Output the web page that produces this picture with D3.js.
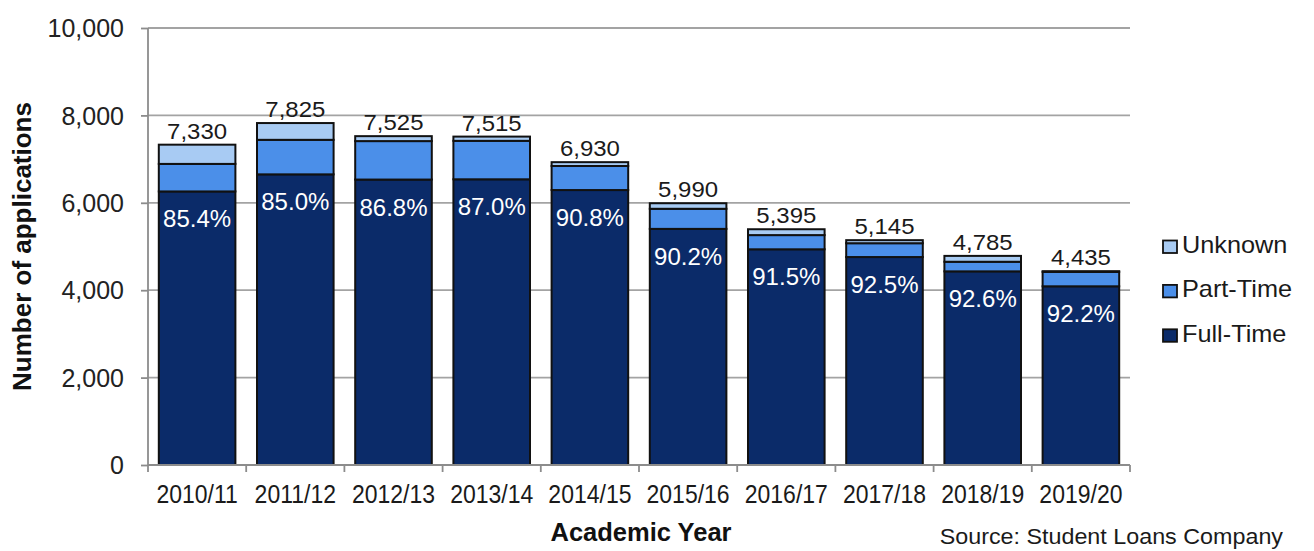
<!DOCTYPE html>
<html>
<head>
<meta charset="utf-8">
<script src="https://cdn.jsdelivr.net/npm/d3@7"></script>
<style>
  body { margin: 0; background: #fff; }
  svg { font-family: Arial, "Liberation Sans", sans-serif; }
</style>
</head>
<body>
<svg id="chart"></svg>
<script>
// Academic years (categories)
const years = ['2010/11', '2011/12', '2012/13', '2013/14', '2014/15',
               '2015/16', '2016/17', '2017/18', '2018/19', '2019/20'];

// Series values (number of applications)
const fullTime = [6260, 6651, 6532, 6538, 6292, 5403, 4936, 4759, 4431, 4089];
const partTime = [630, 790, 880, 880, 550, 460, 325, 316, 220, 330];
const unknown  = [440, 384, 113, 97, 88, 127, 134, 70, 134, 16];

// Y-axis ticks
const yTicks = [0, 2000, 4000, 6000, 8000, 10000];

const seriesKeys = ['Full-Time', 'Part-Time', 'Unknown'];
const colors = {'Full-Time': '#0b2b69', 'Part-Time': '#4b8fe9', 'Unknown': '#a8cbf3'};

const width = 1314, height = 551;
const margin = {top: 28, right: 184, bottom: 86, left: 148};
const innerW = width - margin.left - margin.right;
const innerH = height - margin.top - margin.bottom;

const table = years.map((y, i) => ({
  year: y,
  'Full-Time': fullTime[i],
  'Part-Time': partTime[i],
  'Unknown': unknown[i]
}));

// place a text at (x,y) and stretch it horizontally a bit, like the original
const placeText = (sel, x, y, sx) => sel
    .attr('transform', (d, i) => {
      const px = typeof x === 'function' ? x(d, i) : x;
      const py = typeof y === 'function' ? y(d, i) : y;
      return `translate(${px},${py}) scale(${sx},1)`;
    });

const svg = d3.select('#chart')
    .attr('width', width)
    .attr('height', height);

const chart = svg.append('g')
    .attr('transform', `translate(${margin.left},${margin.top})`);

const xScale = d3.scaleBand()
    .domain(years)
    .range([0, innerW])
    .paddingInner(0.22)
    .paddingOuter(0.11);

const yScale = d3.scaleLinear()
    .domain([0, 10000])
    .range([innerH, 0]);

// Gridlines
chart.append('g')
  .selectAll('line')
  .data(yTicks.filter(d => d > 0))
  .join('line')
    .attr('x1', 0)
    .attr('x2', innerW)
    .attr('y1', d => yScale(d))
    .attr('y2', d => yScale(d))
    .attr('stroke', '#a3a3a3')
    .attr('stroke-width', 1.8);

// Stacked bars
const stacked = d3.stack().keys(seriesKeys)(table);

chart.append('g')
  .selectAll('g')
  .data(stacked)
  .join('g')
    .attr('fill', d => colors[d.key])
  .selectAll('rect')
  .data(d => d)
  .join('rect')
    .attr('x', d => xScale(d.data.year))
    .attr('width', xScale.bandwidth())
    .attr('y', d => yScale(d[1]))
    .attr('height', d => yScale(d[0]) - yScale(d[1]))
    .attr('stroke', '#111')
    .attr('stroke-width', 2);

// Total labels
const totals = table.map(d => d['Full-Time'] + d['Part-Time'] + d['Unknown']);
chart.append('g')
  .selectAll('text')
  .data(table)
  .join('text')
    .call(placeText,
          d => xScale(d.year) + xScale.bandwidth() / 2,
          (d, i) => yScale(totals[i]) - 6, 1.09)
    .attr('text-anchor', 'middle')
    .attr('font-size', 22)
    .attr('fill', '#1a1a1a')
    .text((d, i) => d3.format(',')(totals[i]));

// Full-time percentage labels
chart.append('g')
  .selectAll('text')
  .data(table)
  .join('text')
    .call(placeText,
          d => xScale(d.year) + xScale.bandwidth() / 2,
          d => yScale(d['Full-Time']) + 36, 1.0)
    .attr('text-anchor', 'middle')
    .attr('font-size', 24)
    .attr('fill', '#fff')
    .text((d, i) => d3.format('.1%')(d['Full-Time'] / totals[i]));

// Y axis
const yAxis = d3.axisLeft(yScale)
    .tickValues(yTicks)
    .tickSize(7)
    .tickPadding(17)
    .tickFormat(d3.format(','));

const yAxisG = chart.append('g').call(yAxis);
yAxisG.selectAll('line, path').attr('stroke', '#8c8c8c').attr('stroke-width', 1.8);
yAxisG.selectAll('text')
    .attr('font-size', 25)
    .attr('fill', '#222')
    .attr('dy', '0.35em');
yAxisG.select('.domain').attr('d', `M0,${innerH}V0`);

// X axis
const xAxisG = chart.append('g')
    .attr('transform', `translate(0,${innerH})`);
xAxisG.append('line')
    .attr('x1', 0).attr('x2', innerW)
    .attr('stroke', '#8c8c8c').attr('stroke-width', 1.8);
// tick marks at band boundaries
xAxisG.selectAll('.xtick')
  .data(d3.range(years.length + 1))
  .join('line')
    .attr('class', 'xtick')
    .attr('x1', i => i * xScale.step())
    .attr('x2', i => i * xScale.step())
    .attr('y1', 0).attr('y2', 7)
    .attr('stroke', '#8c8c8c').attr('stroke-width', 1.8);
xAxisG.selectAll('.xlabel')
  .data(years)
  .join('text')
    .attr('class', 'xlabel')
    .call(placeText, d => xScale(d) + xScale.bandwidth() / 2, 38, 0.92)
    .attr('text-anchor', 'middle')
    .attr('font-size', 25)
    .attr('fill', '#1a1a1a')
    .text(d => d);

// Axis titles
svg.append('text')
    .attr('transform', `translate(31,${margin.top + innerH / 2}) rotate(-90)`)
    .attr('text-anchor', 'middle')
    .attr('font-size', 26)
    .attr('font-weight', 'bold')
    .attr('fill', '#111')
    .text('Number of applications');

svg.append('text')
    .attr('x', 641)
    .attr('y', 541)
    .attr('text-anchor', 'middle')
    .attr('font-size', 25.5)
    .attr('font-weight', 'bold')
    .attr('fill', '#111')
    .text('Academic Year');

svg.append('text')
    .call(placeText, 1283, 544, 1.06)
    .attr('text-anchor', 'end')
    .attr('font-size', 22)
    .attr('fill', '#1a1a1a')
    .text('Source: Student Loans Company');

// Legend
const legendKeys = ['Unknown', 'Part-Time', 'Full-Time'];
const legend = svg.append('g')
    .attr('transform', 'translate(1163,253)');
const li = legend.selectAll('g')
  .data(legendKeys)
  .join('g')
    .attr('transform', (d, i) => `translate(0,${i * 44.4})`);
li.append('rect')
    .attr('x', 0).attr('y', -12.5)
    .attr('width', 14).attr('height', 12.5)
    .attr('fill', d => colors[d])
    .attr('stroke', '#111')
    .attr('stroke-width', 1.8);
li.append('text')
    .call(placeText, 19, 0, 1.1)
    .attr('font-size', 23)
    .attr('fill', '#1a1a1a')
    .text(d => d);
</script>
</body>
</html>
